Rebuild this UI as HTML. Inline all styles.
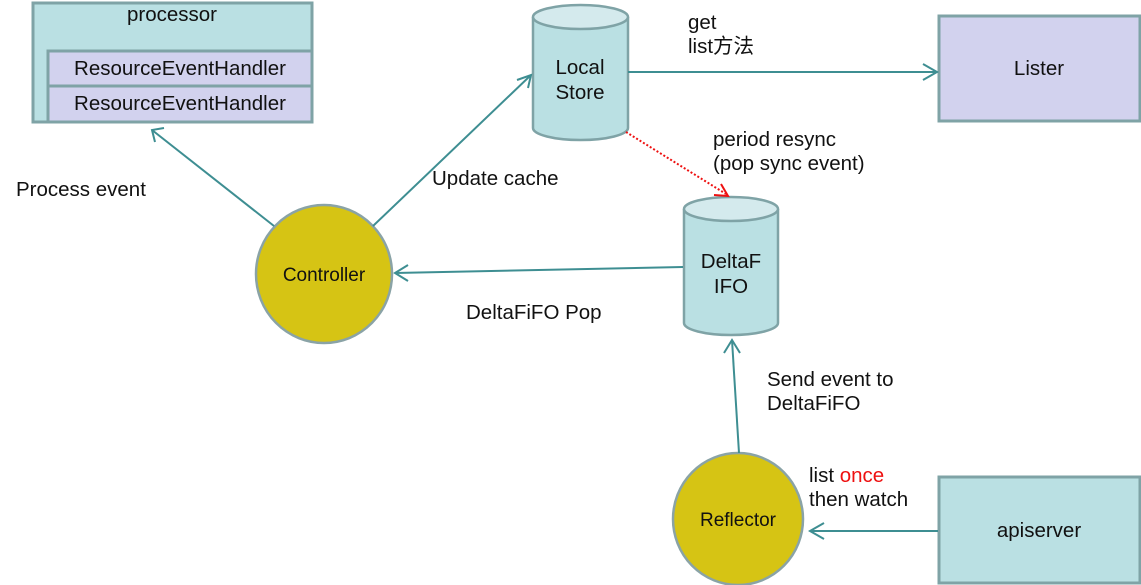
<!DOCTYPE html>
<html><head><meta charset="utf-8"><style>
html,body{margin:0;padding:0;background:#fff;}
svg{display:block;}
text{font-family:"Liberation Sans","Noto Sans CJK SC",sans-serif;font-size:20.5px;fill:#111;}
</style></head><body>
<svg width="1141" height="585" viewBox="0 0 1141 585" xmlns="http://www.w3.org/2000/svg">
<g stroke="#7fa3a6" stroke-width="3">
<rect x="33" y="3" width="279" height="119" fill="#bae0e3"/>
<rect x="48" y="51" width="264" height="35" fill="#d2d2ee"/>
<rect x="48" y="86" width="264" height="36" fill="#d2d2ee"/>
<rect x="939" y="16" width="201" height="105" fill="#d2d2ee"/>
<rect x="939" y="477" width="201" height="106" fill="#bae0e3"/>
</g>
<text x="172" y="21" text-anchor="middle">processor</text>
<text x="180" y="75" text-anchor="middle">ResourceEventHandler</text>
<text x="180" y="110" text-anchor="middle">ResourceEventHandler</text>
<text x="1039" y="75" text-anchor="middle">Lister</text>
<text x="1039" y="537" text-anchor="middle">apiserver</text>
<g stroke="#7fa3a6" stroke-width="2.5">
<path d="M533 17 L533 128 A47.5 12 0 0 0 628 128 L628 17" fill="#bae0e3"/>
<ellipse cx="580.5" cy="17" rx="47.5" ry="12" fill="#d4eaed"/>
<path d="M684 209 L684 323 A47 12 0 0 0 778 323 L778 209" fill="#bae0e3"/>
<ellipse cx="731" cy="209" rx="47" ry="12" fill="#d4eaed"/>
</g>
<text x="580" y="74" text-anchor="middle">Local</text>
<text x="580" y="99" text-anchor="middle">Store</text>
<text x="731" y="268" text-anchor="middle">DeltaF</text>
<text x="731" y="293" text-anchor="middle">IFO</text>
<g stroke="#8aa3a6" stroke-width="2.5" fill="#d6c414">
<ellipse cx="324" cy="274" rx="68" ry="69"/>
<ellipse cx="738" cy="519" rx="65" ry="66"/>
</g>
<text x="324" y="281" text-anchor="middle" style="font-size:19px">Controller</text>
<text x="738" y="526" text-anchor="middle" style="font-size:19px">Reflector</text>
<g stroke="#3e8e92" stroke-width="2" fill="none">
<line x1="274" y1="226" x2="152" y2="130"/>
<polyline points="164,128 152,130 155,142"/>
<line x1="373" y1="226" x2="531" y2="75"/>
<polyline points="517,80 531,75 528,88"/>
<line x1="628" y1="72" x2="937" y2="72"/>
<polyline points="923,64 937,72 923,80"/>
<line x1="683" y1="267" x2="395" y2="273"/>
<polyline points="408,265 395,273 408,281"/>
<line x1="739" y1="453" x2="732" y2="340"/>
<polyline points="724,353 732,340 740,353"/>
<line x1="938" y1="531" x2="810" y2="531"/>
<polyline points="824,523 810,531 824,539"/>
</g>
<line x1="626" y1="132" x2="726" y2="194" stroke="#ee1111" stroke-width="2" stroke-dasharray="2,2"/>
<polyline points="714,195 728,196 721,184" stroke="#ee1111" stroke-width="2" fill="none"/>
<text x="16" y="196">Process event</text>
<text x="432" y="185">Update cache</text>
<text x="466" y="319">DeltaFiFO Pop</text>
<text x="688" y="29">get</text>
<text x="688" y="53">list方法</text>
<text x="713" y="146">period resync</text>
<text x="713" y="170">(pop sync event)</text>
<text x="767" y="386">Send event to</text>
<text x="767" y="410">DeltaFiFO</text>
<text x="809" y="482">list <tspan style="fill:#ee1111">once</tspan></text>
<text x="809" y="506">then watch</text>
</svg>
</body></html>
